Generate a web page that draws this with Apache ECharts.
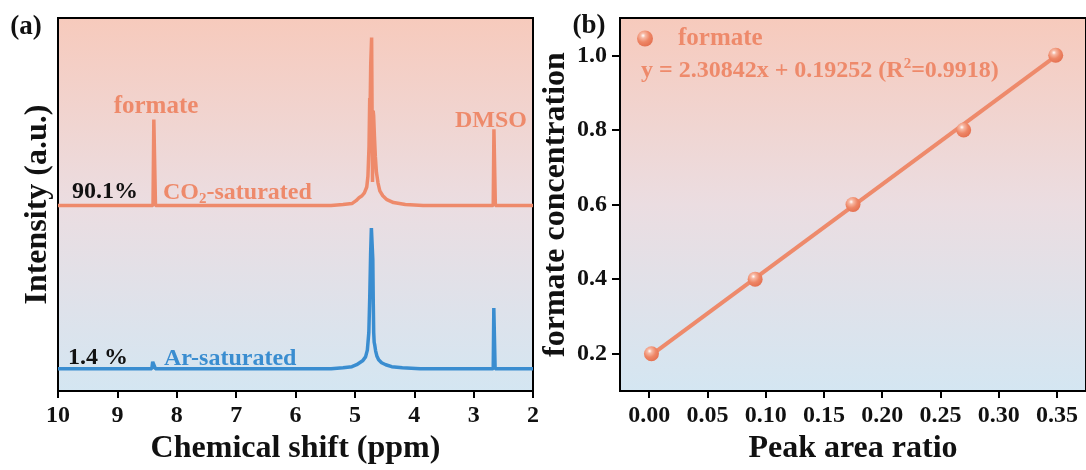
<!DOCTYPE html>
<html>
<head>
<meta charset="utf-8">
<script src="https://cdn.jsdelivr.net/npm/echarts@6/dist/echarts.min.js"></script>
<style>
html,body{margin:0;padding:0;background:#fff;}
#c{width:1086px;height:470px;}
</style>
</head>
<body>
<div id="c"></div>
<script>
// ---------- DATA ----------
// (a) 1H NMR spectra: [chemical shift (ppm), intensity (a.u.)]
const co2Spectrum = [
  [10.0,190],[8.60,190],[8.40,190],[8.386,278],[8.372,278],[8.358,190],
  [5.40,190],[5.20,191],[5.05,192],[4.98,195],[4.93,198],[4.88,200],[4.84,203],[4.80,209],
  [4.78,220],[4.762,250],[4.750,300],[4.743,292],[4.733,335],[4.718,362],[4.707,362],
  [4.703,214],[4.697,214],[4.692,287],[4.684,282],[4.670,260],[4.655,240],[4.637,224],
  [4.61,213],[4.58,205],[4.53,200],[4.46,196],[4.35,193],[4.15,191],[3.85,190],
  [2.67,190],[2.658,268],[2.646,268],[2.634,190],[2.0,190]
];
const arSpectrum = [
  [10.0,23],[8.42,23],[8.405,30],[8.375,30],[8.36,23],
  [5.40,23],[5.20,24],[5.05,25],[4.97,27],[4.92,29],[4.87,31],[4.82,35],[4.79,42],
  [4.765,60],[4.75,95],[4.735,140],[4.722,167],[4.708,167],[4.698,135],[4.69,90],
  [4.683,60],[4.675,50],[4.665,47],[4.65,41],[4.63,36],[4.60,32],[4.55,29],[4.48,27],
  [4.38,25],[4.2,24],[3.9,23],
  [2.67,23],[2.66,85],[2.648,85],[2.638,23],[2.0,23]
];
const shiftTicks = [10, 9, 8, 7, 6, 5, 4, 3, 2];

// (b) calibration
const peakAreaRatio = [0.002, 0.091, 0.175, 0.270, 0.349];
const formateConc   = [0.2, 0.4, 0.6, 0.8, 1.0];
const fitLineX = [0.002, 0.349];
const fitLineY = [0.197, 0.998];
const ratioTicks = [0, 0.05, 0.10, 0.15, 0.20, 0.25, 0.30, 0.35];
const concTicks  = [0.2, 0.4, 0.6, 0.8, 1.0];

// ---------- STYLE ----------
const FONT = 'Liberation Serif';
const SALMON = '#ee8a6b';
const BLUE = '#3a8dd0';
const INK = '#111111';
const bgGrad = {type:'linear', x:0, y:0, x2:0, y2:1, colorStops:[
  {offset:0, color:'#f7cabc'},
  {offset:0.5, color:'#ebdde1'},
  {offset:1, color:'#d4e6f2'}
]};
const ballGrad = {type:'radial', x:0.38, y:0.32, r:0.68, colorStops:[
  {offset:0, color:'#ffffff'},
  {offset:0.22, color:'#f7b8a3'},
  {offset:0.6, color:'#ee8666'},
  {offset:1, color:'#e57252'}
]};

const tickLabel = {color: INK, fontFamily: FONT, fontWeight: 'bold', fontSize: 24};
const nameStyle = {color: INK, fontFamily: FONT, fontWeight: 'bold', fontSize: 32};
const blackLine = {color:'#000', width:2};

const calPairs = peakAreaRatio.map((x,i)=>[x, formateConc[i]]);
const fitPairs = fitLineX.map((x,i)=>[x, fitLineY[i]]);

function txt(text, x, y, color, size, align){
  return {type:'text', x:x, y:y, z:100, style:{text:text, fill:color,
    fontFamily:FONT, fontWeight:'bold', fontSize:size, align:align||'center', verticalAlign:'middle'}};
}
function rich(text, x, y, color, size, richStyles){
  const base = {fontFamily:FONT, fontWeight:'bold', fontSize:size, fill:color, lineHeight:28};
  const r = {};
  Object.keys(richStyles).forEach(k=>{ r[k] = Object.assign({}, base, richStyles[k]); });
  return {type:'text', x:x, y:y, z:100, style:Object.assign({text:text, align:'left', verticalAlign:'middle', rich:r}, base)};
}

const chart = echarts.init(document.getElementById('c'), null, {renderer:'canvas'});
chart.setOption({
  animation:false,
  backgroundColor:'#ffffff',
  grid:[
    {left:58, top:18, width:475, height:382, show:true, backgroundColor:bgGrad, borderColor:'#000', borderWidth:2},
    {left:620, top:18, width:469, height:382, show:true, backgroundColor:bgGrad, borderColor:'#000', borderWidth:2}
  ],
  xAxis:[
    {gridIndex:0, type:'value', min:2, max:10, interval:1, inverse:true,
     name:'Chemical shift (ppm)', nameLocation:'middle', nameGap:33, nameTextStyle:nameStyle,
     axisLine:{show:true, onZero:false, lineStyle:blackLine},
     axisTick:{show:true, length:7, lineStyle:blackLine, customValues:shiftTicks},
     axisLabel:Object.assign({margin:13, customValues:shiftTicks}, tickLabel),
     splitLine:{show:false}},
    {gridIndex:1, type:'value', min:-0.025, max:0.375,
     name:'Peak area ratio', nameLocation:'middle', nameGap:33, nameTextStyle:nameStyle,
     axisLine:{show:true, onZero:false, lineStyle:blackLine},
     axisTick:{show:true, length:7, lineStyle:blackLine, customValues:ratioTicks},
     axisLabel:Object.assign({margin:13, customValues:ratioTicks, formatter:v=>Number(v).toFixed(2)}, tickLabel),
     splitLine:{show:false}}
  ],
  yAxis:[
    {gridIndex:0, type:'value', min:0, max:382,
     name:'Intensity (a.u.)', nameLocation:'middle', nameGap:4, nameTextStyle:nameStyle,
     axisLine:{show:true, onZero:false, lineStyle:blackLine}, axisTick:{show:false}, axisLabel:{show:false},
     splitLine:{show:false}},
    {gridIndex:1, type:'value', min:0.1, max:1.1,
     name:'formate concentration', nameLocation:'middle', nameGap:48, nameTextStyle:nameStyle,
     axisLine:{show:true, onZero:false, lineStyle:blackLine},
     axisTick:{show:true, length:8, lineStyle:blackLine, customValues:concTicks},
     axisLabel:Object.assign({margin:13, customValues:concTicks, formatter:v=>Number(v).toFixed(1)}, tickLabel),
     splitLine:{show:false}}
  ],
  legend:{
    data:[{name:'formate', icon:'circle'}],
    left:637, top:26, padding:0, itemWidth:16, itemHeight:16, selectedMode:false,
    textStyle:{color:SALMON, fontFamily:FONT, fontWeight:'bold', fontSize:25, padding:[0,0,0,20]}
  },
  series:[
    {name:'CO2-saturated', type:'line', xAxisIndex:0, yAxisIndex:0, data:co2Spectrum,
     showSymbol:false, symbol:'none', lineStyle:{color:SALMON, width:3.5}, z:3},
    {name:'Ar-saturated', type:'line', xAxisIndex:0, yAxisIndex:0, data:arSpectrum,
     showSymbol:false, symbol:'none', lineStyle:{color:BLUE, width:3.5}, z:3},
    {name:'fit', type:'line', xAxisIndex:1, yAxisIndex:1, data:fitPairs,
     showSymbol:false, symbol:'none', lineStyle:{color:SALMON, width:4}, z:3},
    {name:'formate', type:'scatter', xAxisIndex:1, yAxisIndex:1, data:calPairs,
     symbol:'circle', symbolSize:15, itemStyle:{color:ballGrad, opacity:1}, z:4}
  ],
  graphic:[
    txt('(a)', 26, 27, INK, 27),
    txt('(b)', 589, 26, INK, 27),
    txt('formate', 156, 107, SALMON, 25),
    txt('DMSO', 491, 121, SALMON, 24),
    txt('90.1%', 105, 192, INK, 24),
    rich('{n|CO}{s|2}{n|-saturated}', 163, 193, SALMON, 24, {n:{}, s:{fontSize:15, lineHeight:13, verticalAlign:'bottom'}}),
    txt('1.4 %', 98, 358, INK, 24),
    txt('Ar-saturated', 164, 359, BLUE, 24, 'left'),
    rich('{n|y = 2.30842x + 0.19252 (R}{p|2}{n|=0.9918)}', 641, 71, SALMON, 24, {n:{}, p:{fontSize:15, lineHeight:18, verticalAlign:'top'}})
  ]
});
</script>
</body>
</html>
